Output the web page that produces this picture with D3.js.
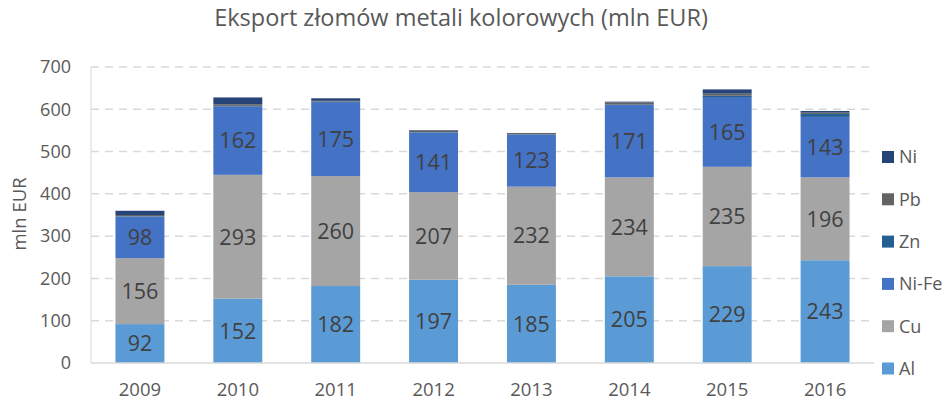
<!DOCTYPE html>
<html><head><meta charset="utf-8">
<script src="https://cdn.jsdelivr.net/npm/d3@7"></script>
<style>body{margin:0;background:#fff}svg{font-family:"Open Sans",sans-serif}</style>
</head><body><svg id="c" width="946" height="403"></svg>
<script>
const years = ["2009","2010","2011","2012","2013","2014","2015","2016"];
const seriesNames = ["Al","Cu","Ni-Fe","Zn","Pb","Ni"];
const Al   = [92,152,182,197,185,205,229,243];
const Cu   = [156,293,260,207,232,234,235,196];
const NiFe = [98,162,175,141,123,171,165,143];
const Zn   = [1,1,1,1,1,1,3,7];
const Pb   = [3,4,2,4,3,5,5,3];
const Ni   = [10,16,6,1,0,2,10,4];
const yTicks = [0,100,200,300,400,500,600,700];
const colors = ["#5B9BD5","#A5A5A5","#4472C4","#255E91","#636363","#264478"];
const labelled = ["Al","Cu","Ni-Fe"];

const rows = years.map((y,i)=>({year:y,"Al":Al[i],"Cu":Cu[i],"Ni-Fe":NiFe[i],"Zn":Zn[i],"Pb":Pb[i],"Ni":Ni[i]}));
const stack = d3.stack().keys(seriesNames)(rows);

const svg = d3.select("#c");
const m = {l:91, r:874, t:67, b:363};
const x = d3.scaleBand().domain(years).range([m.l,m.r]).paddingInner(0.5).paddingOuter(0.25);
const y = d3.scaleLinear().domain([0,700]).range([m.b,m.t]);
const color = d3.scaleOrdinal().domain(seriesNames).range(colors);
const FONT = '"Open Sans",sans-serif';

svg.append("text").attr("x",461).attr("y",26).attr("text-anchor","middle")
  .attr("font-size",23.5).attr("fill","#595959").text("Eksport złomów metali kolorowych (mln EUR)");

// gridlines
svg.append("g").selectAll("line").data(yTicks.filter(t=>t>0)).join("line")
  .attr("x1",m.l).attr("x2",m.r).attr("y1",d=>y(d)).attr("y2",d=>y(d))
  .attr("stroke","#d9d9d9").attr("stroke-width",1.5).attr("stroke-dasharray","8,6");
svg.append("line").attr("x1",m.l).attr("x2",m.l).attr("y1",y(700)).attr("y2",y(0)).attr("stroke","#d9d9d9");

// y axis
const ya = svg.append("g").attr("transform",`translate(${m.l},0)`)
  .call(d3.axisLeft(y).tickValues(yTicks).tickSize(0).tickPadding(20));
ya.select(".domain").remove();
ya.selectAll("text").attr("font-size",18).attr("fill","#595959").attr("font-family",FONT);

svg.append("text").attr("transform","translate(19,214) rotate(-90)").attr("text-anchor","middle")
  .attr("dy","0.36em").attr("font-size",18.5).attr("fill","#595959").text("mln EUR");

// bars
const g = svg.append("g");
stack.forEach(s=>{
  g.append("g").attr("fill",color(s.key)).selectAll("rect").data(s).join("rect")
    .attr("x",d=>x(d.data.year)).attr("width",x.bandwidth())
    .attr("y",d=>y(d[1])).attr("height",d=>y(d[0])-y(d[1]));
});
svg.append("line").attr("x1",m.l).attr("x2",m.r).attr("y1",y(0)).attr("y2",y(0)).attr("stroke","#d9d9d9").attr("stroke-width",1.5);

// labels
stack.filter(s=>labelled.includes(s.key)).forEach(s=>{
  g.append("g").selectAll("text").data(s).join("text")
    .attr("x",d=>x(d.data.year)+x.bandwidth()/2).attr("y",d=>(y(d[0])+y(d[1]))/2)
    .attr("dy","0.36em").attr("text-anchor","middle").attr("font-size",21.5).attr("fill","#404040")
    .text(d=>d[1]-d[0]);
});

// x axis
const xa = svg.append("g").attr("transform",`translate(0,${m.b})`)
  .call(d3.axisBottom(x).tickSize(0).tickPadding(20));
xa.select(".domain").remove();
xa.selectAll("text").attr("font-size",18.5).attr("fill","#595959").attr("font-family",FONT);

// legend
const leg = svg.append("g").selectAll("g").data(seriesNames.slice().reverse()).join("g")
  .attr("transform",(d,i)=>`translate(882,${157+i*42.3})`);
leg.append("rect").attr("x",0).attr("y",-6).attr("width",12).attr("height",12).attr("fill",d=>color(d));
leg.append("text").attr("x",17).attr("dy","0.36em").attr("font-size",18).attr("fill","#595959").text(d=>d);
</script></body></html>
